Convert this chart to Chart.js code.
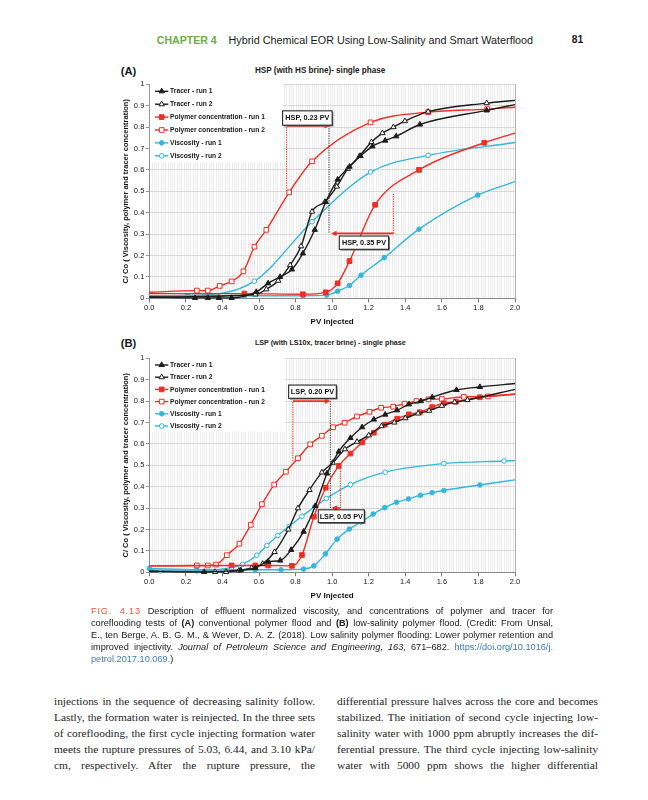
<!DOCTYPE html>
<html>
<head>
<meta charset="utf-8">
<script src="https://cdn.jsdelivr.net/npm/chart.js@4.4.0/dist/chart.umd.min.js"></script>
<style>
html,body{margin:0;padding:0;background:#fff;}
body{width:648px;height:800px;position:relative;overflow:hidden;font-family:"Liberation Sans",Arial,sans-serif;color:#1a1a1a;}
.t{position:absolute;white-space:nowrap;display:inline-block;}
.j{position:absolute;white-space:nowrap;}
canvas{position:absolute;}
.green{color:#6cad47;font-weight:bold;}
.fig{color:#ea5530;letter-spacing:0.8px;}
.link{color:#3b7cc0;}
.serif{font-family:"Liberation Serif","DejaVu Serif",serif;color:#1e1e1e;}
</style>
</head>
<body>

<div id="hChap" class="t green">CHAPTER 4</div>
<div id="hTitle" class="t">Hybrid Chemical EOR Using Low-Salinity and Smart Waterflood</div>
<div id="hNum" class="t" style="font-weight:bold">81</div>

<div id="labA" class="t" style="font-weight:bold">(A)</div>
<div id="titA" class="t" style="font-weight:bold">HSP (with HS brine)- single phase</div>
<canvas id="chartA" width="425" height="254" style="left:100px;top:78px;width:425px;height:254px"></canvas>

<div id="labB" class="t" style="font-weight:bold">(B)</div>
<div id="titB" class="t" style="font-weight:bold">LSP (with LS10x, tracer brine) - single phase</div>
<canvas id="chartB" width="425" height="254" style="left:100px;top:352px;width:425px;height:254px"></canvas>

<div id="cap">
<div class="j cap"><span class="fig">FIG. 4.13</span> Description of effluent normalized viscosity, and concentrations of polymer and tracer for</div>
<div class="j cap">coreflooding tests of <b>(A)</b> conventional polymer flood and <b>(B)</b> low-salinity polymer flood. (Credit: From Unsal,</div>
<div class="j cap">E., ten Berge, A. B. G. M., &amp; Wever, D. A. Z. (2018). Low salinity polymer flooding: Lower polymer retention and</div>
<div class="j cap">improved injectivity. <i>Journal of Petroleum Science and Engineering</i>, <i>163</i>, 671–682. <span class="link">https://doi.org/10.1016/j.</span></div>
<div class="j cap nojust"><span class="link">petrol.2017.10.069.</span>)</div>
</div>

<div class="j serif bl">injections in the sequence of decreasing salinity follow.</div>
<div class="j serif bl">Lastly, the formation water is reinjected. In the three sets</div>
<div class="j serif bl">of coreflooding, the first cycle injecting formation water</div>
<div class="j serif bl">meets the rupture pressures of 5.03, 6.44, and 3.10 kPa/</div>
<div class="j serif bl">cm, respectively. After the rupture pressure, the</div>
<div class="j serif br">differential pressure halves across the core and becomes</div>
<div class="j serif br">stabilized. The initiation of second cycle injecting low-</div>
<div class="j serif br">salinity water with 1000 ppm abruptly increases the dif-</div>
<div class="j serif br">ferential pressure. The third cycle injecting low-salinity</div>
<div class="j serif br">water with 5000 ppm shows the higher differential</div>

<script>
// ================= DATA =================
const seriesLabels = ['Tracer - run 1','Tracer - run 2','Polymer concentration - run 1','Polymer concentration - run 2','Viscosity - run 1','Viscosity - run 2'];

const xTickValues = [0,0.2,0.4,0.6,0.8,1.0,1.2,1.4,1.6,1.8,2.0];
const xTickLabels = ['0.0','0.2','0.4','0.6','0.8','1.0','1.2','1.4','1.6','1.8','2.0'];
const yTickValues = [0,0.1,0.2,0.3,0.4,0.5,0.6,0.7,0.8,0.9,1];
const yTickLabels = ['0','0.1','0.2','0.3','0.4','0.5','0.6','0.7','0.8','0.9','1'];

// (A) HSP - measured points [PV, C/Co]
const hspTracer1 = [[0.25,0.002],[0.32,0.002],[0.38,0.002],[0.45,0.002],[0.585,0.03],[0.65,0.07],[0.715,0.10],[0.78,0.135],[0.84,0.21],[0.905,0.32],[0.965,0.45],[1.03,0.555],[1.095,0.615],[1.155,0.665],[1.22,0.71],[1.29,0.737],[1.35,0.757],[1.48,0.812],[1.845,0.878]];
const hspTracer2 = [[0.58,0.018],[0.64,0.042],[0.705,0.082],[0.77,0.155],[0.83,0.243],[0.89,0.405],[0.96,0.45],[1.025,0.522],[1.085,0.605],[1.15,0.665],[1.215,0.73],[1.275,0.772],[1.335,0.80],[1.398,0.828],[1.525,0.872],[1.845,0.912]];
const hspPolymer1 = [[0.52,0.022],[0.84,0.019],[0.965,0.028],[1.03,0.07],[1.095,0.174],[1.235,0.437],[1.475,0.60],[1.832,0.727]];
const hspPolymer2 = [[0.26,0.036],[0.32,0.036],[0.385,0.058],[0.45,0.079],[0.515,0.126],[0.575,0.241],[0.64,0.32],[0.765,0.495],[0.89,0.64],[1.21,0.822],[1.525,0.87],[1.848,0.884]];
const hspVisc1 = [[0.21,0.012],[0.52,0.012],[0.84,0.012],[0.97,0.015],[1.03,0.033],[1.095,0.06],[1.158,0.108],[1.285,0.19],[1.475,0.323],[1.796,0.482]];
const hspVisc2 = [[0.25,0.014],[0.575,0.08],[0.89,0.358],[1.21,0.59],[1.525,0.668]];
// curve values at PV = 0 and PV = 2.0 (null = curve starts at first point)
const hspStart = [0.006,0.006,0.022,0.028,0.012,0.012];
const hspEnd   = [0.905,0.925,0.772,0.893,0.545,0.728];

// (B) LSP - measured points [PV, C/Co]
const lspTracer1 = [[0.30,0.002],[0.50,0.01],[0.58,0.02],[0.65,0.05],[0.716,0.055],[0.776,0.105],[0.844,0.19],[0.908,0.31],[0.972,0.462],[1.036,0.564],[1.10,0.628],[1.164,0.678],[1.228,0.714],[1.29,0.737],[1.355,0.757],[1.42,0.785],[1.485,0.80],[1.547,0.818],[1.68,0.852],[1.808,0.866]];
const lspTracer2 = [[0.36,0.002],[0.42,0.002],[0.49,0.008],[0.56,0.02],[0.62,0.04],[0.685,0.095],[0.76,0.20],[0.813,0.299],[0.876,0.385],[0.944,0.467],[1.003,0.512],[1.07,0.575],[1.136,0.61],[1.20,0.64],[1.27,0.683],[1.34,0.70],[1.40,0.72],[1.47,0.742],[1.53,0.755],[1.60,0.778],[1.67,0.795],[1.74,0.805]];
const lspPolymer1 = [[0.45,0.032],[0.58,0.032],[0.65,0.032],[0.78,0.03],[0.835,0.081],[0.90,0.26],[0.965,0.395],[1.036,0.497],[1.10,0.555],[1.164,0.607],[1.228,0.652],[1.288,0.69],[1.356,0.718],[1.419,0.738],[1.48,0.748],[1.547,0.772],[1.611,0.79],[1.677,0.797],[1.808,0.818]];
const lspPolymer2 = [[0.26,0.032],[0.32,0.032],[0.365,0.036],[0.424,0.08],[0.493,0.134],[0.555,0.222],[0.616,0.318],[0.683,0.41],[0.747,0.47],[0.813,0.533],[0.88,0.598],[0.944,0.638],[1.005,0.678],[1.068,0.699],[1.136,0.728],[1.204,0.75],[1.268,0.769],[1.334,0.774],[1.396,0.788],[1.461,0.80],[1.527,0.808],[1.60,0.81],[1.72,0.82],[1.852,0.822]];
const lspVisc1 = [[0.0,0.018],[0.26,0.012],[0.58,0.012],[0.72,0.012],[0.844,0.015],[0.90,0.03],[0.963,0.086],[1.027,0.155],[1.094,0.202],[1.16,0.235],[1.224,0.272],[1.288,0.302],[1.352,0.327],[1.418,0.343],[1.483,0.36],[1.547,0.372],[1.611,0.382],[1.808,0.408]];
const lspVisc2 = [[0.06,0.006],[0.26,0.006],[0.45,0.022],[0.51,0.037],[0.588,0.08],[0.643,0.125],[0.703,0.172],[0.765,0.215],[0.835,0.262],[0.904,0.305],[0.968,0.345],[1.10,0.41],[1.29,0.468],[1.611,0.508],[1.94,0.52]];
const lspStart = [0.006,0.004,0.03,0.03,null,0.014];
const lspEnd   = [0.882,0.855,0.833,0.832,0.432,0.522];

// annotations in data units
const hspLabels = ['HSP, 0.23 PV','HSP, 0.35 PV'];
const hspBoxes  = [[0.729,1.0,0.876,0.809],[1.039,1.309,0.291,0.229]];   // x1,x2,yTop,yBottom
const hspGuides = [[0.751,0.513,0.806,'r'],[0.983,0.806,0.303,'k'],[1.335,0.303,0.49,'r']]; // x,y1,y2
const hspArrows = [[0.806,0.751,0.988],[0.303,1.335,0.994]];             // y,xFrom,xTo
const hspLegendBox = [0.73,0.637];                                       // right x, bottom y

const lspLabels = ['LSP, 0.20 PV','LSP, 0.05 PV'];
const lspBoxes  = [[0.762,1.023,0.875,0.813],[0.924,1.176,0.292,0.232]];
const lspGuides = [[0.785,0.52,0.80,'r'],[0.99,0.80,0.30,'k'],[1.045,0.30,0.49,'r']];
const lspArrows = [[0.80,0.785,0.99],[0.30,1.045,0.997]];
const lspLegendBox = [0.744,0.657];

// ================= STYLE =================
const RED='#ee2f25', CYAN='#33b8dc', BLACK='#1c1c1c';
const FONT='"Liberation Sans", Arial, sans-serif';
Chart.defaults.font.family = FONT;
const styles = [
  {color:BLACK, shape:'triangle', filled:true,  r:3.1},
  {color:BLACK, shape:'triangle', filled:false, r:3.1},
  {color:RED,   shape:'rect',     filled:true,  r:3.3},
  {color:RED,   shape:'rect',     filled:false, r:3.3},
  {color:CYAN,  shape:'circle',   filled:true,  r:2.3},
  {color:CYAN,  shape:'circle',   filled:false, r:2.3}
];

function buildDatasets(list, starts, ends){
  return list.map((pts,i)=>{
    const st = styles[i];
    const data = [];
    if (starts[i] !== null) data.push({x:0, y:starts[i], ext:true});
    pts.forEach(p=>data.push({x:p[0], y:p[1]}));
    if (ends[i] !== null) data.push({x:2, y:ends[i], ext:true});
    return {
      label: seriesLabels[i], data,
      borderColor: st.color, borderWidth: 1.4, fill:false,
      cubicInterpolationMode:'monotone',
      pointStyle: st.shape,
      pointRadius: c => (c.raw && c.raw.ext) ? 0 : st.r,
      pointHoverRadius: 0,
      pointBackgroundColor: st.filled ? st.color : '#ffffff',
      pointBorderColor: st.color, pointBorderWidth: 1,
      clip: 8
    };
  });
}

function drawMarker(ctx, st, x, y, r){
  ctx.save();
  ctx.fillStyle = st.filled ? st.color : '#fff';
  ctx.strokeStyle = st.color; ctx.lineWidth = 1;
  ctx.beginPath();
  if (st.shape === 'circle') ctx.arc(x, y, r, 0, Math.PI*2);
  else if (st.shape === 'rect') { const s = r*Math.SQRT1_2; ctx.rect(x-s, y-s, 2*s, 2*s); }
  else { let a = 0; ctx.moveTo(x+Math.sin(a)*r, y-Math.cos(a)*r);
    for (let k=0;k<2;k++){ a += 2*Math.PI/3; ctx.lineTo(x+Math.sin(a)*r, y-Math.cos(a)*r); } ctx.closePath(); }
  ctx.fill(); ctx.stroke();
  ctx.restore();
}

const bgPlugin = {
  id:'bg',
  beforeDraw(chart){
    const {ctx, chartArea:a, scales:{x}} = chart;
    ctx.save();
    ctx.fillStyle='#fff'; ctx.fillRect(a.left, a.top, a.right-a.left, a.bottom-a.top);
    ctx.strokeStyle='#e4e4e4'; ctx.lineWidth=0.7;
    for (let k=0;k<=160;k++){
      const px = Math.round(x.getPixelForValue(k*0.0125))+0.5;
      ctx.beginPath(); ctx.moveTo(px, a.top); ctx.lineTo(px, a.bottom); ctx.stroke();
    }
    ctx.restore();
  }
};

const legendPlugin = {
  id:'boxLegend',
  beforeDatasetsDraw(chart, args, o){
    const {ctx, chartArea:a, scales:{x,y}} = chart;
    const right = x.getPixelForValue(o.box[0]), bottom = y.getPixelForValue(o.box[1]);
    ctx.save();
    ctx.fillStyle='#fff'; ctx.fillRect(a.left+0.6, a.top-1, right-a.left-0.6, bottom-a.top+1);
    ctx.strokeStyle='#b0b0b0'; ctx.lineWidth=1;
    ctx.beginPath(); ctx.moveTo(a.right+0.5, a.top); ctx.lineTo(a.right+0.5, a.bottom); ctx.stroke();
    seriesLabels.forEach((lab,i)=>{
      const st = styles[i];
      const cy = a.top + o.first + i*o.gap;
      ctx.strokeStyle = st.color; ctx.lineWidth = 1.4;
      ctx.beginPath(); ctx.moveTo(a.left+5.7, cy); ctx.lineTo(a.left+19, cy); ctx.stroke();
      drawMarker(ctx, st, a.left+12.4, cy, st.r);
      ctx.fillStyle='#151515'; ctx.font='bold 6.7px '+FONT; ctx.textBaseline='middle'; ctx.textAlign='left';
      ctx.fillText(lab, a.left+20.8, cy+0.3);
    });
    ctx.restore();
  }
};

const notesPlugin = {
  id:'notes',
  afterDatasetsDraw(chart, args, o){
    const {ctx, scales:{x,y}} = chart;
    const X = v => x.getPixelForValue(v), Y = v => y.getPixelForValue(v);
    ctx.save();
    o.guides.forEach(g=>{
      ctx.strokeStyle = g[3]==='r' ? RED : '#3a3a3a'; ctx.lineWidth = 1; ctx.setLineDash([1.3,1.1]);
      ctx.beginPath(); ctx.moveTo(X(g[0]), Y(g[1])); ctx.lineTo(X(g[0]), Y(g[2])); ctx.stroke();
    });
    ctx.setLineDash([]);
    o.arrows.forEach(ar=>{
      const yy = Y(ar[0]), x1 = X(ar[1]), x2 = X(ar[2]), d = Math.sign(x2-x1);
      ctx.strokeStyle = RED; ctx.fillStyle = RED; ctx.lineWidth = 1.7;
      ctx.beginPath(); ctx.moveTo(x1, yy); ctx.lineTo(x2 - d*4, yy); ctx.stroke();
      ctx.beginPath(); ctx.moveTo(x2, yy); ctx.lineTo(x2-d*5.5, yy-2.8); ctx.lineTo(x2-d*5.5, yy+2.8); ctx.closePath(); ctx.fill();
    });
    o.boxes.forEach((b,i)=>{
      const l = X(b[0]), r = X(b[1]), t = Y(b[2]), bt = Y(b[3]);
      ctx.fillStyle='#6a6a6a'; ctx.fillRect(l+1.2, t+1.2, r-l, bt-t);
      ctx.fillStyle='#fff'; ctx.fillRect(l, t, r-l, bt-t);
      ctx.strokeStyle='#262626'; ctx.lineWidth=1.1; ctx.strokeRect(l, t, r-l, bt-t);
      ctx.fillStyle='#111'; ctx.font='bold 7.3px '+FONT; ctx.textAlign='center'; ctx.textBaseline='middle';
      ctx.fillText(o.labels[i], (l+r)/2, (t+bt)/2+0.4);
    });
    ctx.restore();
  }
};

function makeChart(id, datasets, legend, notes){
  return new Chart(document.getElementById(id), {
    type:'line',
    data:{datasets},
    options:{
      responsive:false, animation:false,
      layout:{padding:{left:0,right:10,top:6.3,bottom:0}},
      plugins:{legend:{display:false}, tooltip:{enabled:false}, title:{display:false},
        boxLegend: legend, notes: notes},
      scales:{
        x:{type:'linear', min:0, max:2,
          afterFit: s => { s.height = 33.7; },
          afterBuildTicks: s => { s.ticks = xTickValues.map(v=>({value:v})); },
          ticks:{callback:(v,i)=>xTickLabels[i], autoSkip:false, maxRotation:0, font:{size:7.5}, color:'#161616', padding:1.5},
          grid:{drawOnChartArea:false, tickLength:4, tickColor:'#777'},
          border:{color:'#8a8a8a', width:1},
          title:{display:true, text:'PV Injected', color:'#111', font:{size:8, weight:'bold'}, padding:{top:0,bottom:5.8}}
        },
        y:{min:0, max:1,
          afterFit: s => { s.width = 49.3; },
          afterBuildTicks: s => { s.ticks = yTickValues.map(v=>({value:v})); },
          ticks:{callback:(v,i)=>yTickLabels[i], autoSkip:false, font:{size:7.5}, color:'#161616', padding:1.5},
          grid:{color:'#cfcfcf', lineWidth:0.8, tickLength:3.5, tickColor:'#777'},
          border:{color:'#8a8a8a', width:1},
          title:{display:true, text:'C/ Co ( Viscosity, polymer and tracer concentration)', color:'#111', font:{size:7.5, weight:'bold'}, padding:{top:21.2,bottom:0}}
        }
      }
    },
    plugins:[bgPlugin, legendPlugin, notesPlugin]
  });
}

makeChart('chartA',
  buildDatasets([hspTracer1,hspTracer2,hspPolymer1,hspPolymer2,hspVisc1,hspVisc2], hspStart, hspEnd),
  {box:hspLegendBox, first:7, gap:12.9},
  {labels:hspLabels, boxes:hspBoxes, guides:hspGuides, arrows:hspArrows});

makeChart('chartB',
  buildDatasets([lspTracer1,lspTracer2,lspPolymer1,lspPolymer2,lspVisc1,lspVisc2], lspStart, lspEnd),
  {box:lspLegendBox, first:6.7, gap:12.2},
  {labels:lspLabels, boxes:lspBoxes, guides:lspGuides, arrows:lspArrows});

// ================= TEXT LAYOUT =================
function place(id, left, cy, width){
  const el = document.getElementById(id);
  el.style.fontSize='50px'; el.style.lineHeight='50px';
  const w = el.getBoundingClientRect().width;
  const fs = 50*width/w;
  el.style.fontSize = fs+'px'; el.style.lineHeight = fs+'px';
  el.style.left = left+'px'; el.style.top = (cy - fs*0.5)+'px';
}
place('hChap', 156.8, 40.2, 60);
place('hTitle', 228.5, 40.2, 305);
place('hNum', 571.8, 40.2, 11.4);
place('labA', 120.7, 71.3, 15.6);
place('titA', 255, 71.3, 130.7);
place('labB', 120.7, 343.3, 15.6);
place('titB', 255, 343.3, 151);

function justify(els, left, width, firstCy, step, fs, lh){
  els.forEach((el,i)=>{
    el.style.fontSize = fs+'px'; el.style.lineHeight = lh+'px';
    el.style.left = left+'px'; el.style.top = (firstCy + i*step - lh/2)+'px';
    el.style.display='inline-block';
    const nat = el.getBoundingClientRect().width;
    if (el.classList.contains('nojust')) return;
    const spaces = (el.textContent.match(/ /g)||[]).length;
    if (nat < width && spaces>0) el.style.wordSpacing = ((width-nat)/spaces)+'px';
    else if (nat > width) el.style.letterSpacing = ((width-nat)/el.textContent.length)+'px';
  });
}
justify([...document.querySelectorAll('.cap')], 91, 462, 610.6, 12.2, 9.2, 12);
justify([...document.querySelectorAll('.bl')], 54, 261, 700.6, 16.2, 11.4, 16);
justify([...document.querySelectorAll('.br')], 337, 261, 700.6, 16.2, 11.4, 16);
</script>
</body>
</html>
